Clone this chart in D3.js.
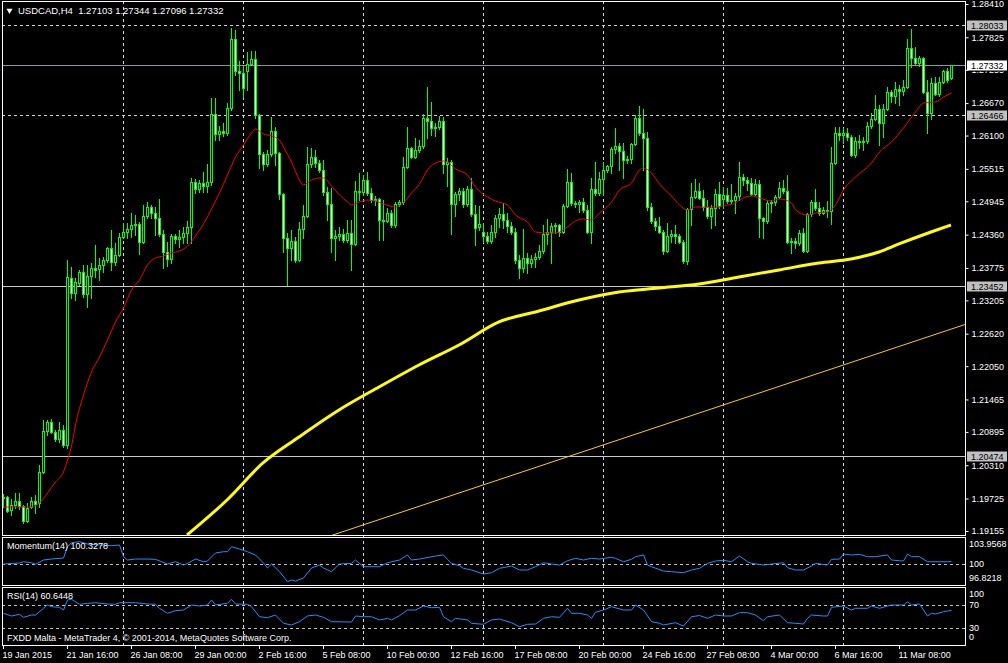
<!DOCTYPE html>
<html><head><meta charset="utf-8">
<script src="https://cdn.jsdelivr.net/npm/d3@7"></script>
<style>
html,body{margin:0;padding:0;background:#000;}
svg{display:block;}
text{font-family:"Liberation Sans",Arial,sans-serif;font-size:9px;fill:#fff;}
</style></head><body>
<svg id="c" width="1008" height="663"></svg>
<script>
// ---------- DATA ----------
const symbolTitle = "USDCAD,H4  1.27103 1.27344 1.27096 1.27332";
const open = [1.19736,1.19753,1.19524,1.19612,1.19682,1.19594,1.19331,1.19577,1.19682,1.19647,
1.20192,1.20911,1.21070,1.20894,1.20771,1.20929,1.20666,1.23598,1.23335,1.23510,
1.23704,1.23317,1.23633,1.23774,1.23756,1.23826,1.23914,1.24125,1.23879,1.24002,
1.24318,1.24406,1.24459,1.24529,1.24547,1.24231,1.24687,1.24845,1.24739,1.24652,
1.24371,1.24055,1.23932,1.24336,1.24283,1.24318,1.24388,1.24494,1.25284,1.25161,
1.25266,1.25214,1.25284,1.26478,1.26127,1.26179,1.26144,1.26583,1.27795,1.27233,
1.27198,1.27233,1.27356,1.27444,1.26461,1.25776,1.25600,1.25776,1.26179,1.25793,
1.25074,1.24301,1.24125,1.24248,1.23914,1.24459,1.24687,1.25600,1.25723,1.25618,
1.25495,1.25109,1.24898,1.24301,1.24336,1.24371,1.24266,1.24388,1.24196,1.25126,
1.25109,1.25319,1.25091,1.24968,1.24986,1.24617,1.24599,1.24739,1.24529,1.24898,
1.24933,1.25548,1.25881,1.25723,1.25846,1.25916,1.26408,1.26355,1.26232,1.26250,
1.26355,1.25600,1.25635,1.24898,1.25074,1.25126,1.24898,1.25161,1.24722,1.24494,
1.24406,1.24336,1.24248,1.24406,1.24652,1.24722,1.24617,1.24511,1.24406,1.23914,
1.23774,1.23949,1.23861,1.23932,1.23967,1.24072,1.24371,1.24406,1.24511,1.24529,
1.24406,1.24862,1.25284,1.24915,1.24898,1.24933,1.24792,1.24406,1.25161,1.25091,
1.25337,1.25495,1.25565,1.25864,1.25916,1.25828,1.25670,1.25688,1.25952,1.26408,
1.26144,1.26057,1.24845,1.24599,1.24511,1.24406,1.24072,1.24336,1.24371,1.24336,
1.24231,1.23896,1.24810,1.25021,1.25126,1.25003,1.24845,1.24687,1.24827,1.25074,
1.24986,1.25056,1.24950,1.24968,1.25038,1.25372,1.25319,1.25266,1.25074,1.25249,
1.24652,1.24599,1.24915,1.24933,1.25021,1.25179,1.25126,1.24231,1.24248,1.24213,
1.24388,1.24072,1.24722,1.24933,1.24827,1.24739,1.24792,1.24775,1.25618,1.26144,
1.26109,1.26144,1.26074,1.25758,1.26004,1.25987,1.26004,1.26267,1.26390,1.26566,
1.26320,1.26566,1.26865,1.26794,1.26917,1.26882,1.26953,1.27637,1.27462,1.27374,
1.27462,1.26865,1.26496,1.27023,1.26830,1.27040,1.27233,1.27103];
const high = [1.19806,1.19771,1.19718,1.19823,1.19823,1.19612,1.19647,1.19753,1.19788,1.20314,
1.21105,1.21105,1.21122,1.20929,1.21070,1.21017,1.23914,1.23791,1.23598,1.23739,
1.23826,1.23826,1.23861,1.24178,1.23949,1.23967,1.24143,1.24441,1.24213,1.24388,
1.24564,1.24564,1.24739,1.24704,1.24582,1.24880,1.24933,1.24880,1.24845,1.24986,
1.24441,1.24231,1.24371,1.24371,1.24441,1.24494,1.24599,1.25354,1.25337,1.25319,
1.25460,1.25600,1.26760,1.26760,1.26267,1.26320,1.26671,1.27989,1.27953,1.27409,
1.27321,1.27567,1.27584,1.27584,1.26478,1.25811,1.25846,1.26425,1.26250,1.25811,
1.25091,1.24388,1.24441,1.24318,1.24582,1.24880,1.25899,1.25881,1.25846,1.25670,
1.25670,1.25196,1.25179,1.24441,1.24494,1.24459,1.24617,1.24617,1.25302,1.25442,
1.25407,1.25460,1.25179,1.25038,1.25003,1.24968,1.24828,1.24792,1.24933,1.24968,
1.25723,1.26250,1.25899,1.26057,1.26022,1.26478,1.26953,1.26689,1.26320,1.26443,
1.26425,1.25705,1.25670,1.25109,1.25179,1.25179,1.25214,1.25354,1.24880,1.24862,
1.24564,1.24406,1.24529,1.24704,1.24828,1.24915,1.24739,1.24582,1.24476,1.24002,
1.24459,1.24037,1.24002,1.24037,1.24178,1.24529,1.24634,1.24564,1.24564,1.24547,
1.24898,1.25512,1.25442,1.24950,1.24968,1.25003,1.24880,1.25354,1.25635,1.25460,
1.25635,1.25583,1.25899,1.26232,1.25969,1.25969,1.25741,1.25969,1.26461,1.26619,
1.26566,1.26162,1.24915,1.24652,1.24669,1.24441,1.24564,1.24441,1.24529,1.24371,
1.24266,1.24827,1.25266,1.25337,1.25266,1.25144,1.24968,1.24880,1.25161,1.25284,
1.25196,1.25179,1.25249,1.25091,1.25635,1.25424,1.25372,1.25354,1.25337,1.25319,
1.24669,1.24968,1.24968,1.25056,1.25284,1.25319,1.25407,1.24301,1.24301,1.24441,
1.24476,1.24739,1.24968,1.25161,1.24933,1.24845,1.24950,1.25899,1.26250,1.26250,
1.26232,1.26232,1.26109,1.26074,1.26109,1.26074,1.26338,1.26496,1.26812,1.26636,
1.26654,1.26953,1.26900,1.27040,1.26988,1.27075,1.27795,1.27971,1.27655,1.27497,
1.27479,1.27075,1.27110,1.27128,1.27128,1.27251,1.27286,1.27344];
const low = [1.19577,1.19489,1.19436,1.19559,1.19542,1.19296,1.19314,1.19559,1.19471,1.19577,
1.20174,1.20841,1.20876,1.20736,1.20719,1.20631,1.20614,1.23247,1.23212,1.23476,
1.23265,1.23089,1.23247,1.23616,1.23563,1.23704,1.23879,1.23739,1.23826,1.23984,
1.24301,1.24301,1.24318,1.24353,1.24020,1.24213,1.24652,1.24652,1.24353,1.24336,
1.23774,1.23809,1.23861,1.24213,1.24143,1.24213,1.24213,1.24213,1.25091,1.25109,
1.25109,1.25109,1.25231,1.26022,1.26022,1.26092,1.26109,1.26548,1.27163,1.26900,
1.26777,1.26900,1.27339,1.26408,1.25530,1.25495,1.25565,1.25741,1.25583,1.24991,
1.24055,1.23476,1.23914,1.23879,1.23896,1.24301,1.24669,1.25548,1.25548,1.25460,
1.25056,1.24617,1.24055,1.23914,1.24266,1.24231,1.24231,1.23739,1.24178,1.24968,
1.25056,1.25056,1.24933,1.24880,1.24266,1.24266,1.24582,1.24494,1.24494,1.24862,
1.24898,1.25530,1.25705,1.25705,1.25811,1.25881,1.26057,1.26109,1.26092,1.26215,
1.25442,1.25214,1.24371,1.24687,1.24968,1.24845,1.24862,1.24687,1.24178,1.24441,
1.24231,1.24213,1.24213,1.24318,1.24494,1.24476,1.24406,1.24371,1.23861,1.23598,
1.23704,1.23686,1.23791,1.23791,1.23932,1.24037,1.24196,1.23861,1.24388,1.24336,
1.24388,1.24845,1.24880,1.24845,1.24757,1.24757,1.24388,1.24213,1.25056,1.25056,
1.25056,1.25460,1.25442,1.25793,1.25495,1.25354,1.25618,1.25618,1.25934,1.26109,
1.25495,1.24792,1.24564,1.24441,1.24388,1.24020,1.24055,1.24231,1.24213,1.24213,
1.23861,1.23844,1.24529,1.25003,1.24986,1.24792,1.24652,1.24476,1.24529,1.24827,
1.24827,1.24915,1.24915,1.24739,1.24968,1.25231,1.25144,1.25056,1.25056,1.24318,
1.24301,1.24564,1.24757,1.24880,1.25003,1.25091,1.24213,1.24037,1.24125,1.24178,
1.24055,1.24055,1.24687,1.24792,1.24704,1.24722,1.24669,1.24547,1.25600,1.26022,
1.25969,1.26022,1.25741,1.25723,1.25881,1.25846,1.25969,1.26232,1.26373,1.25934,
1.26074,1.26548,1.26689,1.26671,1.26636,1.26812,1.26935,1.27304,1.27356,1.27321,
1.26847,1.26145,1.26391,1.26812,1.26794,1.27023,1.27040,1.27096];
const close = [1.19753,1.19506,1.19612,1.19682,1.19594,1.19331,1.19559,1.19682,1.19630,1.20192,
1.20911,1.21070,1.20894,1.20771,1.20929,1.20666,1.23616,1.23335,1.23528,1.23704,
1.23317,1.23633,1.23774,1.23739,1.23826,1.23914,1.24125,1.23879,1.24002,1.24318,
1.24406,1.24459,1.24529,1.24547,1.24231,1.24687,1.24845,1.24739,1.24652,1.24371,
1.24055,1.23932,1.24336,1.24283,1.24318,1.24388,1.24494,1.25284,1.25161,1.25266,
1.25214,1.25284,1.26478,1.26127,1.26179,1.26144,1.26583,1.27795,1.27233,1.27198,
1.26935,1.27356,1.27444,1.26461,1.25776,1.25600,1.25776,1.26179,1.25793,1.25074,
1.24301,1.24125,1.24248,1.23914,1.24459,1.24687,1.25600,1.25723,1.25618,1.25495,
1.25109,1.24898,1.24301,1.24336,1.24371,1.24266,1.24388,1.24196,1.25126,1.25109,
1.25319,1.25091,1.24968,1.24986,1.24617,1.24599,1.24739,1.24529,1.24898,1.24933,
1.25548,1.25881,1.25723,1.25846,1.25916,1.26408,1.26355,1.26232,1.26250,1.26355,
1.25600,1.25635,1.24898,1.25074,1.25126,1.24898,1.25161,1.24722,1.24476,1.24547,
1.24336,1.24248,1.24406,1.24652,1.24722,1.24617,1.24511,1.24406,1.23914,1.23774,
1.23949,1.23861,1.23932,1.23967,1.24072,1.24371,1.24406,1.24511,1.24529,1.24406,
1.24862,1.25284,1.24915,1.24898,1.24933,1.24792,1.24406,1.25161,1.25091,1.25337,
1.25495,1.25565,1.25864,1.25916,1.25828,1.25670,1.25688,1.25952,1.26408,1.26144,
1.26057,1.24845,1.24599,1.24511,1.24406,1.24072,1.24336,1.24371,1.24336,1.24231,
1.23896,1.24810,1.25021,1.25126,1.25003,1.24845,1.24687,1.24827,1.25074,1.24862,
1.25056,1.24950,1.24968,1.25038,1.25372,1.25319,1.25266,1.25074,1.25249,1.24652,
1.24599,1.24915,1.24933,1.25021,1.25179,1.25126,1.24231,1.24248,1.24213,1.24388,
1.24072,1.24722,1.24933,1.24827,1.24739,1.24792,1.24775,1.25618,1.26144,1.26109,
1.26144,1.26074,1.25758,1.26004,1.25987,1.26004,1.26267,1.26390,1.26566,1.26320,
1.26566,1.26865,1.26794,1.26917,1.26882,1.26953,1.27637,1.27462,1.27374,1.27462,
1.26865,1.26496,1.27023,1.26830,1.27040,1.27233,1.27075,1.27332];

// moving average (red), sampled [barIndex, price]
const maFast = [[0,1.19577],[4,1.19577],[7,1.19577],[9,1.19647],[11,1.19823],[13,1.20016],[15,1.20192],[16,1.20402],[17,1.20648],[18,1.21017],[20,1.21544],[22,1.21948],[24,1.22211],[26,1.22510],[28,1.22826],[30,1.23071],[32,1.23388],[34,1.23563],[36,1.23826],[38,1.23949],[40,1.23984],[42,1.24037],[44,1.24072],[46,1.24160],[48,1.24336],[50,1.24547],[52,1.24810],[54,1.25091],[56,1.25407],[58,1.25723],[60,1.25934],[62,1.26144],[63,1.26215],[65,1.26127],[67,1.26092],[69,1.26022],[70,1.25899],[72,1.25635],[74,1.25319],[75,1.25231],[77,1.25319],[79,1.25354],[80,1.25354],[82,1.25214],[84,1.25056],[86,1.24933],[87,1.24880],[89,1.24933],[91,1.24968],[93,1.24950],[95,1.24898],[98,1.24845],[100,1.24915],[102,1.25091],[104,1.25249],[106,1.25495],[108,1.25618],[110,1.25653],[111,1.25635],[113,1.25512],[116,1.25407],[118,1.25196],[121,1.25021],[123,1.24950],[126,1.24880],[128,1.24704],[131,1.24582],[133,1.24406],[136,1.24388],[138,1.24388],[141,1.24494],[143,1.24599],[145,1.24634],[147,1.24617],[149,1.24739],[152,1.24933],[154,1.25144],[157,1.25266],[159,1.25495],[160,1.25530],[162,1.25442],[164,1.25249],[167,1.25038],[169,1.24880],[171,1.24792],[173,1.24845],[176,1.24845],[178,1.24845],[181,1.24880],[183,1.24915],[184,1.24968],[187,1.25038],[189,1.25003],[192,1.24950],[194,1.24986],[197,1.24915],[198,1.24792],[201,1.24704],[203,1.24739],[206,1.24757],[208,1.24880],[210,1.25144],[213,1.25372],[217,1.25618],[219,1.25811],[222,1.25987],[225,1.26232],[228,1.26513],[230,1.26671],[233,1.26689],[235,1.26777],[237,1.26847]];
// moving average (thick yellow), sampled [barIndex, price]
const maSlow = [[46,1.19085],[56,1.19700],[65,1.20350],[74,1.20806],[84,1.21280],[94,1.21684],[104,1.22071],[114,1.22422],[124,1.22826],[134,1.23019],[144,1.23212],[154,1.23353],[164,1.23423],[174,1.23493],[184,1.23616],[194,1.23739],[204,1.23861],[212,1.23932],[219,1.24055],[224,1.24196],[232,1.24406],[237,1.24529]];
// trend line (thin yellow) anchors [barIndex, price]
const trendLine = [[90,1.19261],[230,1.22536]];
// horizontal line objects
const hLinesDashed = [1.28033, 1.26466];
const hLinesSolid = [1.23452, 1.20474];
const bidPrice = 1.27332;

const momentum = [[0,99.94],[4,100.09],[5,100.28],[7,100.13],[8,99.90],[10,100.54],[12,100.68],[15,100.83],[16,102.51],[17,103.11],[19,103.26],[21,102.91],[24,102.77],[27,102.66],[29,102.77],[30,101.03],[31,100.54],[33,100.68],[36,100.68],[38,100.64],[41,99.94],[43,100.28],[45,99.79],[46,100.04],[48,100.68],[50,100.28],[51,100.39],[53,101.58],[55,101.77],[56,101.77],[57,102.51],[59,102.17],[61,101.77],[63,101.28],[65,100.09],[66,99.35],[67,99.94],[69,98.80],[71,97.31],[72,97.56],[73,97.41],[75,97.86],[77,99.35],[79,99.79],[80,99.35],[82,98.80],[84,99.94],[87,100.04],[88,100.54],[90,99.54],[94,99.54],[96,100.13],[99,100.54],[101,101.28],[102,100.54],[104,100.68],[108,101.13],[110,101.28],[111,100.64],[112,100.04],[114,99.69],[115,99.30],[117,99.05],[120,98.45],[122,98.65],[124,99.30],[127,99.64],[129,99.05],[131,99.05],[133,99.54],[135,100.13],[137,99.94],[139,99.79],[141,100.43],[143,100.79],[145,100.54],[147,100.79],[149,100.68],[152,100.94],[153,100.79],[155,100.28],[157,100.64],[158,101.03],[160,101.28],[161,99.79],[162,99.54],[165,98.90],[167,98.80],[170,98.65],[172,99.05],[174,99.30],[176,100.04],[178,100.39],[180,100.49],[182,100.28],[184,101.13],[186,100.28],[187,100.04],[190,99.79],[192,99.94],[195,100.13],[196,99.39],[198,99.05],[200,99.05],[202,99.64],[203,100.04],[206,99.79],[207,100.64],[209,100.68],[210,101.43],[212,101.28],[214,101.38],[216,101.03],[218,101.03],[221,101.28],[222,100.54],[224,100.43],[225,100.39],[226,101.43],[227,101.03],[229,101.03],[231,100.28],[232,100.28],[236,100.28],[237,100.3278]];
const rsi = [[0,55.6],[2,50.9],[4,53.8],[5,48.6],[7,52.6],[8,52.6],[10,64.4],[11,70.2],[12,67.2],[14,66.1],[15,61.4],[16,78.9],[17,80.2],[19,71.4],[21,73.1],[23,74.2],[26,71.9],[28,71.4],[29,74.2],[33,74.2],[36,71.9],[38,71.4],[39,64.4],[41,55.6],[43,60.2],[45,61.4],[47,70.2],[49,68.4],[51,70.2],[52,78.9],[53,70.2],[56,73.1],[57,80.2],[58,71.9],[61,71.4],[62,67.2],[64,49.6],[66,47.9],[68,52.6],[70,38.1],[72,35.1],[74,40.9],[76,50.9],[78,52.6],[80,48.6],[82,40.9],[87,40.3],[88,50.9],[90,49.6],[92,49.6],[94,43.9],[96,46.8],[97,43.9],[99,51.4],[101,61.4],[103,61.4],[105,68.4],[107,65.4],[109,66.1],[110,49.6],[112,40.9],[113,46.8],[116,43.9],[117,38.1],[120,36.3],[122,43.9],[124,45.6],[127,39.1],[129,32.1],[131,36.3],[133,36.8],[135,46.8],[137,49.6],[139,48.6],[141,64.4],[142,55.6],[144,55.6],[146,52.6],[147,46.8],[148,57.4],[150,61.4],[152,67.2],[155,61.4],[157,61.4],[158,70.2],[160,61.4],[162,40.9],[164,38.1],[165,35.1],[168,39.1],[170,33.3],[172,49.6],[174,51.7],[176,46.8],[178,52.6],[180,50.9],[182,50.9],[184,56.7],[186,56.7],[188,52.6],[190,42.6],[191,49.6],[194,52.6],[196,39.1],[198,38.1],[200,36.8],[201,46.8],[202,52.6],[205,50.9],[206,50.9],[207,66.1],[210,68.4],[212,61.4],[213,64.4],[216,64.4],[217,68.4],[219,64.4],[221,68.4],[222,70.2],[225,70.2],[226,75.9],[227,70.2],[229,71.9],[231,50.9],[232,55.6],[233,54.4],[235,58.4],[237,60.6448]];

const priceTicks = ["1.28410","1.27825","1.27255","1.26670","1.26100","1.25515","1.24945","1.24360","1.23775","1.23205","1.22620","1.22050","1.21465","1.20895","1.20310","1.19725","1.19155"];
const timeTickBars = [0,16,32,48,64,80,96,112,128,144,160,176,192,208,224];
const timeTickLabels = ["19 Jan 2015","21 Jan 16:00","26 Jan 08:00","29 Jan 00:00","2 Feb 16:00","5 Feb 08:00","10 Feb 00:00","12 Feb 16:00","17 Feb 08:00","20 Feb 00:00","24 Feb 16:00","27 Feb 08:00","4 Mar 00:00","6 Mar 16:00","11 Mar 08:00"];
const gridBars = [30,60,90,120,150,180,210];
const momRange = [96.8218, 103.9568];
const momLabels = ["103.9568","100","96.8218"];
const rsiLevels = [70,30];
const rsiLabels = ["100","70","30","0"];
const momTitle = "Momentum(14) 100.3278";
const rsiTitle = "RSI(14) 60.6448";
const footer = "FXDD Malta - MetaTrader 4, \u00a9 2001-2014, MetaQuotes Software Corp.";

// ---------- LAYOUT ----------
const L = 2, R = 965;
const mainT = 1, mainB = 535, momT = 537, momB = 585, rsiT = 587, rsiB = 645;
const svg = d3.select("#c");
svg.append("rect").attr("width",1008).attr("height",663).attr("fill","#000");

const x = d3.scaleLinear().domain([0,240]).range([3,963]);
const y = d3.scaleLinear().domain([1.19155,1.28410]).range([531,4]);
const yM = d3.scaleLinear().domain(momRange).range([momB,momT]);
const yR = d3.scaleLinear().domain([0,100]).range([rsiB,588]);
const px = i => Math.round(x(i)) + 0.5;

const defs = svg.append("defs");
[["clipMain",mainT,mainB],["clipMom",momT,momB],["clipRsi",rsiT,rsiB]].forEach(([id,t,b])=>{
  defs.append("clipPath").attr("id",id).append("rect").attr("x",L+1).attr("y",t+1).attr("width",R-L-1).attr("height",b-t-1);
});
// clip for the tick label hidden under the bid box
defs.append("clipPath").attr("id","clipAxis").append("rect").attr("x",R).attr("y",0).attr("width",60).attr("height",663);

// vertical grid
svg.append("g").selectAll("line").data(gridBars).join("line")
  .attr("x1",d=>px(d)).attr("x2",d=>px(d)).attr("y1",mainT).attr("y2",rsiB)
  .attr("stroke","#d8d8d8").attr("stroke-dasharray","3,3");

// horizontal object lines
const gm = svg.append("g").attr("clip-path","url(#clipMain)");
gm.selectAll("line.hd").data(hLinesDashed).join("line").attr("class","hd")
  .attr("x1",L).attr("x2",R).attr("y1",d=>Math.round(y(d))+0.5).attr("y2",d=>Math.round(y(d))+0.5)
  .attr("stroke","#d0d0d0").attr("stroke-dasharray","3,3");
gm.selectAll("line.hs").data(hLinesSolid).join("line").attr("class","hs")
  .attr("x1",L).attr("x2",R).attr("y1",d=>Math.round(y(d))+0.5).attr("y2",d=>Math.round(y(d))+0.5)
  .attr("stroke","#c8c8c8");
gm.append("line").attr("x1",L).attr("x2",R).attr("y1",Math.round(y(bidPrice))+0.5).attr("y2",Math.round(y(bidPrice))+0.5)
  .attr("stroke","#8a97a8");

// trend line (ray)
const tSlope = (trendLine[1][1]-trendLine[0][1])/(trendLine[1][0]-trendLine[0][0]);
const tEnd = x.invert(R);
gm.append("line")
  .attr("x1",x(trendLine[0][0]-80)).attr("y1",y(trendLine[0][1]-80*tSlope))
  .attr("x2",x(tEnd)).attr("y2",y(trendLine[0][1]+(tEnd-trendLine[0][0])*tSlope))
  .attr("stroke","#f5d000").attr("stroke-width",1);

// candles
const bars = d3.range(close.length).map(i=>({i,o:open[i],h:high[i],l:low[i],c:close[i]}));
gm.selectAll("line.wick").data(bars).join("line").attr("class","wick")
  .attr("x1",d=>px(d.i)).attr("x2",d=>px(d.i))
  .attr("y1",d=>Math.round(y(d.h))).attr("y2",d=>Math.round(y(d.l))+1)
  .attr("stroke","#00ff00");
gm.selectAll("rect.body").data(bars).join("rect").attr("class","body")
  .attr("x",d=>px(d.i)-1).attr("width",2)
  .attr("y",d=>Math.round(y(Math.max(d.o,d.c)))+0.5)
  .attr("height",d=>Math.max(1,Math.round(y(Math.min(d.o,d.c)))-Math.round(y(Math.max(d.o,d.c)))))
  .attr("fill",d=>d.c>=d.o?"#000":"#fff").attr("stroke","#00ff00");

// moving averages
gm.append("path").datum(maSlow)
  .attr("d",d3.line().x(d=>x(d[0])).y(d=>y(d[1])).curve(d3.curveMonotoneX))
  .attr("fill","none").attr("stroke","#ffff00").attr("stroke-width",3);
gm.append("path").datum(maFast)
  .attr("d",d3.line().x(d=>x(d[0])+0.5).y(d=>y(d[1])).curve(d3.curveMonotoneX))
  .attr("fill","none").attr("stroke","#ff0000").attr("stroke-width",1);

// momentum panel
const gmo = svg.append("g").attr("clip-path","url(#clipMom)");
gmo.append("line").attr("x1",L).attr("x2",R).attr("y1",Math.round(yM(100))+0.5).attr("y2",Math.round(yM(100))+0.5)
  .attr("stroke","#c0c0c0").attr("stroke-dasharray","3,3");
gmo.append("path").datum(momentum)
  .attr("d",d3.line().x(d=>x(d[0])+0.5).y(d=>yM(d[1])))
  .attr("fill","none").attr("stroke","#1e90ff").attr("stroke-width",1);

// rsi panel
const grs = svg.append("g").attr("clip-path","url(#clipRsi)");
grs.selectAll("line").data(rsiLevels).join("line")
  .attr("x1",L).attr("x2",R).attr("y1",d=>Math.round(yR(d))+0.5).attr("y2",d=>Math.round(yR(d))+0.5)
  .attr("stroke","#c0c0c0").attr("stroke-dasharray","3,3");
grs.append("path").datum(rsi)
  .attr("d",d3.line().x(d=>x(d[0])+0.5).y(d=>yR(d[1])))
  .attr("fill","none").attr("stroke","#1e90ff").attr("stroke-width",1);

// panel frames
[[mainT,mainB],[momT,momB],[rsiT,rsiB]].forEach(([t,b])=>{
  svg.append("rect").attr("x",L+0.5).attr("y",t+0.5).attr("width",R-L).attr("height",b-t)
    .attr("fill","none").attr("stroke","#fff");
});

// price axis
const ya = svg.append("g").attr("transform",`translate(${R+0.5},0)`)
  .call(d3.axisRight(y).tickValues(priceTicks.map(Number)).tickSize(3).tickFormat((d,i)=>priceTicks[i]));
ya.select(".domain").remove();
ya.selectAll("line").attr("stroke","#fff");
ya.selectAll("text").attr("fill","#fff").style("font-family","Liberation Sans, Arial, sans-serif").style("font-size","9px");
// the tick label sitting under the bid box only shows its lower edge
const bidY = Math.round(y(bidPrice));
ya.selectAll(".tick").filter(d=>Math.abs(y(d)-bidY)<8).select("text")
  .attr("clip-path",null)
  .each(function(){
    const t = d3.select(this), ty = +t.attr("y") || 0;
  });
ya.selectAll(".tick").filter(d=>Math.abs(y(d)-bidY)<8).each(function(d){
  const g = d3.select(this);
  const cp = "clipBid";
  defs.append("clipPath").attr("id",cp).append("rect").attr("x",-5).attr("y",(bidY+6)-y(d)).attr("width",60).attr("height",10);
  g.select("text").attr("clip-path",`url(#${cp})`);
});

// price labels for objects
const lbls = hLinesDashed.concat(hLinesSolid).map(v=>({v,bg:"#c0c0c0"})).concat([{v:bidPrice,bg:"#fff"}]);
const lg = svg.append("g");
lg.selectAll("rect").data(lbls).join("rect")
  .attr("x",R+2).attr("width",40).attr("y",d=>Math.round(y(d.v))-4.5).attr("height",10).attr("fill",d=>d.bg);
lg.selectAll("text").data(lbls).join("text")
  .attr("x",R+6).attr("y",d=>Math.round(y(d.v))+0.5).attr("dy","0.35em").style("fill","#000")
  .text(d=>d.v.toFixed(5));

// time axis
const xa = svg.append("g").attr("transform",`translate(0,${rsiB})`)
  .call(d3.axisBottom(x).tickValues(timeTickBars).tickSize(4).tickFormat((d,i)=>timeTickLabels[i]));
xa.select(".domain").remove();
xa.selectAll("line").attr("stroke","#fff");
xa.selectAll("text").attr("fill","#fff").attr("text-anchor","start").attr("x",-1)
  .style("font-family","Liberation Sans, Arial, sans-serif").style("font-size","9px");

// indicator scale labels
const clampM = v => Math.max(momT+7, Math.min(momB-7, yM(v)));
svg.append("g").selectAll("text").data(momLabels).join("text")
  .attr("x",R+4).attr("y",d=>clampM(+d)).attr("dy","0.35em").text(d=>d);
const clampR = v => Math.max(rsiT+7, Math.min(rsiB-8, yR(v)));
svg.append("g").selectAll("text").data(rsiLabels).join("text")
  .attr("x",R+4).attr("y",d=>clampR(+d)).attr("dy","0.35em").text(d=>d);

// titles
svg.append("path").attr("d",d3.symbol().type(d3.symbolTriangle).size(16)())
  .attr("transform","translate(9.5,10.5) rotate(180)").attr("fill","#fff");
svg.append("text").attr("x",18).attr("y",14).style("white-space","pre").style("font-size","9.5px").text(symbolTitle);
svg.append("text").attr("x",7).attr("y",549).text(momTitle);
svg.append("text").attr("x",7).attr("y",599).text(rsiTitle);
svg.append("text").attr("x",7).attr("y",641).text(footer);
</script>
</body></html>
